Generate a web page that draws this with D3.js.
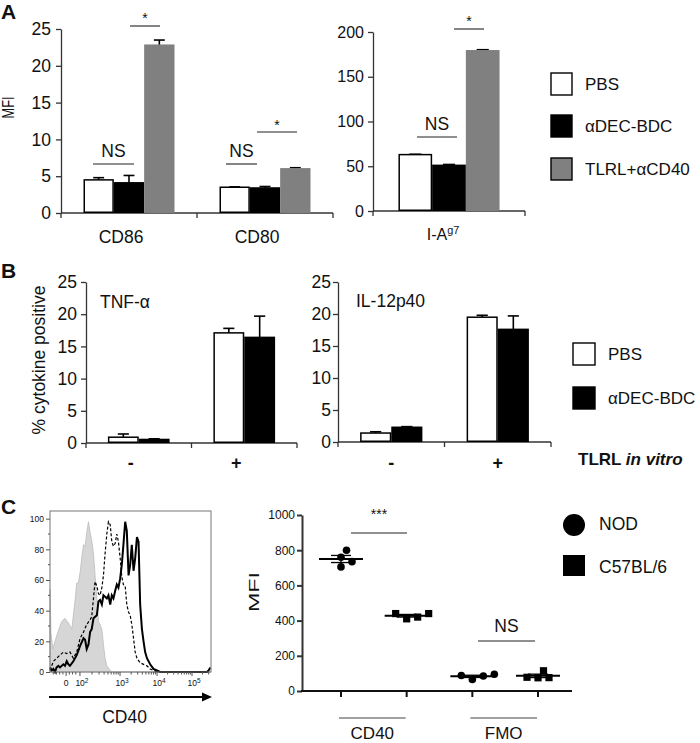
<!DOCTYPE html>
<html><head><meta charset="utf-8">
<script src="https://cdn.jsdelivr.net/npm/d3@7"></script>
<style>body{margin:0;background:#fff}svg{display:block}text{font-family:"Liberation Sans",Arial,sans-serif;fill:#111}</style>
</head><body><svg id="c" width="700" height="743"></svg>
<script>
// ================= DATA =================
// Panel A
const groupsA = ["PBS", "αDEC-BDC", "TLRL+αCD40"];
const catsA1 = ["CD86", "CD80"];
const valsCD86 = [4.5, 4.1, 22.8];
const errCD86 = [0.3, 1.0, 0.7];
const valsCD80 = [3.5, 3.4, 6.0];
const errCD80 = [0.05, 0.2, 0.15];
const catsA2 = ["I-Ag7"];
const valsIA = [63, 51, 179];
const errIA = [0.4, 1.0, 1.2];
const ticksA1 = [0, 5, 10, 15, 20, 25];
const ticksA2 = [0, 50, 100, 150, 200];
// Panel B
const groupsB = ["PBS", "αDEC-BDC"];
const catsB = ["-", "+"];
const tnfMinus = [0.9, 0.55], tnfPlus = [17.1, 16.4];
const tnfErrMinus = [0.5, 0.1], tnfErrPlus = [0.7, 3.3];
const ilMinus = [1.4, 2.3], ilPlus = [19.5, 17.6];
const ilErrMinus = [0.2, 0.1], ilErrPlus = [0.3, 2.1];
const ticksB = [0, 5, 10, 15, 20, 25];
// Panel C histogram (x: display channel 0-1000, y: % of max)
const histTickLabels = ["0", "10|2", "10|3", "10|4", "10|5"];
const histTickChannels = [100, 186, 435, 665, 882];
const histYTicks = [0, 20, 40, 60, 80, 100];
const histFMO = [[0,54],[6,26],[17,15],[31,20],[52,27],[73,33],[93,35],[114,32],[135,28],[145,37],[156,47],[166,58],[176,58],[187,65],[197,74],[208,83],[218,82],[228,91],[239,98],[249,91],[259,86],[270,77],[280,63],[291,48],[301,33],[311,31],[322,28],[332,18],[342,9],[353,4],[374,1],[384,0],[1000,0]];
const histDashed = [[0,1],[21,7],[41,9],[62,11],[83,13],[104,12],[124,13],[145,9],[166,13],[187,22],[208,26],[228,31],[249,34],[259,36],[270,48],[280,59],[291,56],[301,51],[311,50],[322,55],[332,63],[342,77],[353,90],[363,98],[374,96],[384,85],[394,82],[405,84],[415,90],[425,85],[436,74],[446,62],[456,57],[467,56],[477,44],[488,39],[498,37],[508,31],[519,22],[529,13],[540,9],[560,6],[581,5],[602,4],[622,2],[643,1],[664,0]];
const histSolid = [[0,3],[10,1],[21,2],[31,0],[41,3],[52,4],[62,3],[83,5],[93,4],[104,7],[114,5],[124,4],[145,7],[166,11],[187,17],[208,22],[218,21],[228,15],[239,18],[249,26],[259,28],[270,35],[291,37],[301,46],[311,47],[322,44],[332,50],[353,48],[363,50],[374,44],[384,50],[394,48],[405,53],[415,57],[425,55],[436,61],[446,70],[456,83],[467,98],[477,92],[488,63],[498,70],[508,83],[519,66],[529,74],[540,88],[550,85],[560,44],[571,28],[581,20],[591,13],[602,9],[622,5],[643,2],[664,1],[684,0],[975,0],[985,1],[996,3]];
// Panel C scatter
const catsC = ["CD40", "FMO"];
const strainsC = ["NOD", "C57BL/6"];
const nodCD40 = [760, 800, 735, 705];
const b6CD40 = [440, 410, 440, 420];
const nodFMO = [85, 65, 95, 88];
const b6FMO = [75, 76, 115, 78];
const ticksC = [0, 200, 400, 600, 800, 1000];

// ================= DRAW =================
const svg = d3.select("#c");
const AX = "#333";

function panelLabel(t, x, y) {
  svg.append("text").attr("x", x).attr("y", y).attr("font-size", 21).attr("font-weight", "bold").text(t);
}
function rotLabel(t, x, y, fs, len) {
  const el = svg.append("text").attr("transform", `translate(${x},${y}) rotate(-90)`).attr("text-anchor", "middle").attr("font-size", fs).text(t);
  if (len) el.attr("textLength", len).attr("lengthAdjust", "spacingAndGlyphs");
}
function yAxis(y, ticks, x, pad, fs, sw) {
  const g = svg.append("g").attr("transform", `translate(${x},0)`)
    .call(d3.axisLeft(y).tickValues(ticks).tickSize(5).tickSizeOuter(0).tickPadding(pad).tickFormat(d3.format("d")));
  g.selectAll("path,line").attr("stroke", AX).attr("stroke-width", sw || 1.3);
  g.selectAll("text").attr("font-size", fs).attr("font-family", "Liberation Sans, Arial, sans-serif").attr("fill", "#111");
  return g;
}
function sig(x1, x2, yl, label, ty, fs) {
  svg.append("line").attr("x1", x1).attr("x2", x2).attr("y1", yl).attr("y2", yl).attr("stroke", "#222").attr("stroke-width", 1.1);
  svg.append("text").attr("x", (x1 + x2) / 2).attr("y", ty).attr("text-anchor", "middle").attr("font-size", fs).text(label);
}

const fillsA = ["#fff", "#000", "#808080"];
const strokesA = ["#000", "#000", "#808080"];

function barPanel(o) {
  const y = d3.scaleLinear().domain(o.yDom).range([o.yBase, o.yTop]);
  const xb = d3.scaleBand().domain(o.cats).range([o.x0, o.x1]).padding(0);
  const xg = d3.scaleBand().domain(o.groups).range([0, xb.bandwidth()]).paddingInner(0).paddingOuter(o.padOuter);
  yAxis(y, o.ticks, o.x0, o.tickPad, o.tickFs);
  svg.append("line").attr("x1", o.x0).attr("x2", o.x1).attr("y1", o.yBase).attr("y2", o.yBase).attr("stroke", AX).attr("stroke-width", 1.3);
  const bounds = o.cats.map(c => xb(c)).concat([o.x1]);
  svg.selectAll(null).data(bounds).enter().append("line")
    .attr("x1", d => d).attr("x2", d => d).attr("y1", o.yBase).attr("y2", o.yBase + 5).attr("stroke", AX).attr("stroke-width", 1.3);
  o.cats.forEach((c, ci) => {
    const vals = o.vals[ci], errs = o.errs[ci];
    o.groups.forEach((g, gi) => {
      const bx = xb(c) + xg(g), bw = xg.bandwidth();
      const v = vals[gi], e = errs[gi];
      const cx = bx + bw / 2, cw = bw * 0.36;
      svg.append("line").attr("x1", cx).attr("x2", cx).attr("y1", y(v)).attr("y2", y(v + e)).attr("stroke", "#000").attr("stroke-width", 1.6);
      svg.append("line").attr("x1", cx - cw / 2).attr("x2", cx + cw / 2).attr("y1", y(v + e)).attr("y2", y(v + e)).attr("stroke", "#000").attr("stroke-width", 1.6);
      svg.append("rect").attr("x", bx + 0.75).attr("y", y(v)).attr("width", bw - 1.5).attr("height", o.yBase - y(v) - 0.75)
        .attr("fill", o.fills[gi]).attr("stroke", o.strokes[gi]).attr("stroke-width", 1.5);
    });
    if (o.catLabels) {
      const t = svg.append("text").attr("x", xb(c) + xb.bandwidth() / 2 + (o.labelDx || 0)).attr("y", o.labelY)
        .attr("text-anchor", "middle").attr("font-size", o.labelFs).attr("font-weight", o.labelBold ? "bold" : null);
      if (c === "I-Ag7") {
        t.append("tspan").text("I-A");
        t.append("tspan").attr("font-size", o.labelFs * 0.68).attr("dy", -6).text("g7");
      } else t.text(c);
    }
  });
  return {y, xb, xg};
}
function legendBoxes(labels, fills, x, ys, textX, fs, boxW, boxH) {
  labels.forEach((l, i) => {
    svg.append("rect").attr("x", x).attr("y", ys[i]).attr("width", boxW).attr("height", boxH)
      .attr("fill", fills[i]).attr("stroke", "#000").attr("stroke-width", 1.4);
    svg.append("text").attr("x", textX).attr("y", ys[i] + boxH / 2 + fs * 0.36).attr("font-size", fs).text(l);
  });
}

// ---------- Panel A ----------
panelLabel("A", 1, 19);
rotLabel("MFI", 14, 107.5, 16, 22);
barPanel({cats: catsA1, groups: groupsA, vals: [valsCD86, valsCD80], errs: [errCD86, errCD80],
  yDom: [0, 25], ticks: ticksA1, x0: 61, x1: 333, yBase: 213, yTop: 29, padOuter: 0.742,
  fills: fillsA, strokes: strokesA, tickPad: 5, tickFs: 17.5, catLabels: true, labelY: 243, labelFs: 17.5, labelDx: -8});
sig(93, 134, 164, "NS", 157, 17.5);
sig(130, 160, 26, "*", 23, 14);
sig(226, 257, 164, "NS", 157, 17.5);
sig(257, 297, 132, "*", 130, 14);

barPanel({cats: catsA2, groups: groupsA, vals: [valsIA], errs: [errIA],
  yDom: [0, 200], ticks: ticksA2, x0: 373, x1: 525, yBase: 211, yTop: 32, padOuter: 0.755,
  fills: fillsA, strokes: strokesA, tickPad: 4, tickFs: 16, catLabels: true, labelY: 240, labelFs: 16, labelDx: -6});
sig(417, 457, 137, "NS", 130, 17.5);
sig(454, 484, 29, "*", 26, 14);
legendBoxes(groupsA, fillsA, 551, [73, 115, 158], 585, 17, 21, 22);

// ---------- Panel B ----------
panelLabel("B", 1, 278);
rotLabel("% cytokine positive", 45, 360, 17.5);
barPanel({cats: catsB, groups: groupsB, vals: [tnfMinus, tnfPlus], errs: [tnfErrMinus, tnfErrPlus],
  yDom: [0, 25], ticks: ticksB, x0: 86, x1: 297, yBase: 443, yTop: 282, padOuter: 0.71,
  fills: ["#fff", "#000"], strokes: ["#000", "#000"], tickPad: 4, tickFs: 17.5, catLabels: true, labelY: 469, labelFs: 18, labelBold: true, labelDx: -8});
svg.append("text").attr("x", 100).attr("y", 308).attr("font-size", 17.5).text("TNF-α");
barPanel({cats: catsB, groups: groupsB, vals: [ilMinus, ilPlus], errs: [ilErrMinus, ilErrPlus],
  yDom: [0, 25], ticks: ticksB, x0: 338, x1: 551, yBase: 442, yTop: 282, padOuter: 0.71,
  fills: ["#fff", "#000"], strokes: ["#000", "#000"], tickPad: 2, tickFs: 17.5, catLabels: true, labelY: 469, labelFs: 18, labelBold: true, labelDx: 0});
svg.append("text").attr("x", 356).attr("y", 307).attr("font-size", 17.5).text("IL-12p40");
legendBoxes(groupsB, ["#fff", "#000"], 573, [343, 387], 608, 17, 22, 22);
{
  const t = svg.append("text").attr("x", 578).attr("y", 465).attr("font-size", 17).attr("font-weight", "bold");
  t.append("tspan").text("TLRL ");
  t.append("tspan").attr("font-style", "italic").text("in vitro");
}

// ---------- Panel C: histogram ----------
panelLabel("C", 1, 514);
{
  const hx = d3.scaleLinear().domain([0, 1000]).range([50, 211]);
  const hy = d3.scaleLinear().domain([0, 105]).range([672, 511]);
  const area = d3.area().x(d => hx(d[0])).y0(hy(0)).y1(d => hy(d[1]));
  const line = d3.line().x(d => hx(d[0])).y(d => hy(d[1]));
  svg.append("path").datum(histFMO).attr("d", area).attr("fill", "#d6d6d6").attr("stroke", "#bdbdbd").attr("stroke-width", 0.8);
  svg.append("path").datum(histDashed).attr("d", line).attr("fill", "none").attr("stroke", "#000").attr("stroke-width", 1.2).attr("stroke-dasharray", "3,2");
  svg.append("path").datum(histSolid).attr("d", line).attr("fill", "none").attr("stroke", "#000").attr("stroke-width", 2);
  svg.append("rect").attr("x", 50).attr("y", 511).attr("width", 161).attr("height", 161).attr("fill", "none").attr("stroke", "#777").attr("stroke-width", 1);
  const gy = svg.append("g").attr("transform", "translate(50,0)")
    .call(d3.axisLeft(hy).tickValues(histYTicks).tickSize(4).tickSizeOuter(0).tickPadding(2).tickFormat(d3.format("d")));
  gy.select(".domain").remove();
  gy.selectAll("line").attr("stroke", "#555");
  gy.selectAll("text").attr("font-size", 8.5).attr("fill", "#222");
  svg.selectAll(null).data(d3.range(10, 101, 20)).enter().append("line")
    .attr("x1", 48).attr("x2", 50).attr("y1", d => hy(d)).attr("y2", d => hy(d)).attr("stroke", "#555");
  svg.selectAll(null).data(histTickChannels).enter().append("line")
    .attr("x1", d => hx(d)).attr("x2", d => hx(d)).attr("y1", 672).attr("y2", 676).attr("stroke", "#555");
  const decs = [[186, 435], [435, 665], [665, 882], [882, 1099]];
  const minor = [];
  decs.forEach(([a, b]) => { for (let k = 2; k <= 9; k++) { const c = a + (b - a) * Math.log10(k); if (c <= 1000) minor.push(c); } });
  [20, 40, 60, 80, 120, 140, 160].forEach(c => minor.push(c));
  svg.selectAll(null).data(minor).enter().append("line")
    .attr("x1", d => hx(d)).attr("x2", d => hx(d)).attr("y1", 672).attr("y2", 674.5).attr("stroke", "#555");
  histTickLabels.forEach((l, i) => {
    const parts = l.split("|");
    const t = svg.append("text").attr("x", hx(histTickChannels[i]) + (parts.length > 1 ? 2 : 0)).attr("y", 686)
      .attr("text-anchor", "middle").attr("font-size", 8.5).attr("fill", "#222");
    t.append("tspan").text(parts[0]);
    if (parts[1]) t.append("tspan").attr("dy", -3.5).attr("font-size", 6.5).text(parts[1]);
  });
  svg.append("line").attr("x1", 49).attr("x2", 203).attr("y1", 697).attr("y2", 697).attr("stroke", "#000").attr("stroke-width", 2);
  svg.append("path").attr("d", "M202,692.5 L212,697 L202,701.5 Z").attr("fill", "#000");
  svg.append("text").attr("x", 124.5).attr("y", 723).attr("text-anchor", "middle").attr("font-size", 17.5).text("CD40");
}

// ---------- Panel C: scatter ----------
{
  const cols = [];
  catsC.forEach(c => strainsC.forEach(s => cols.push(c + "|" + s)));
  const colVals = [nodCD40, b6CD40, nodFMO, b6FMO];
  const xs = d3.scalePoint().domain(cols).range([341, 538]);
  const y = d3.scaleLinear().domain([0, 1000]).range([691, 515]);
  rotLabel("MFI", 259, 592, 14, 40);
  yAxis(y, ticksC, 302, 2, 12, 2);
  svg.append("line").attr("x1", 301).attr("x2", 572).attr("y1", 691).attr("y2", 691).attr("stroke", "#111").attr("stroke-width", 2.2);
  svg.selectAll(null).data(cols).enter().append("line")
    .attr("x1", d => xs(d)).attr("x2", d => xs(d)).attr("y1", 691).attr("y2", 697).attr("stroke", "#111").attr("stroke-width", 2);
  catsC.forEach((c, i) => {
    const a = xs(cols[i * 2]) - 2, b = xs(cols[i * 2 + 1]) - 1;
    svg.append("line").attr("x1", a).attr("x2", b).attr("y1", 718).attr("y2", 718).attr("stroke", "#444").attr("stroke-width", 1.1);
    svg.append("text").attr("x", (a + b) / 2).attr("y", 739).attr("text-anchor", "middle").attr("font-size", 17).text(c);
  });
  const r = 3.8;
  colVals.forEach((vals, ci) => {
    const cx = xs(cols[ci]);
    const placed = [];
    const order = vals.map((v, i) => i).sort((a, b) => vals[a] - vals[b]);
    order.forEach(i => {
      const py = y(vals[i]);
      let off = 0;
      for (let k = 0; k < 40; k++) {
        const cand = k === 0 ? 0 : (k % 2 ? 1 : -1) * Math.ceil(k / 2) * 5.5;
        if (placed.every(p => Math.hypot(p[0] - cand, p[1] - py) >= 2 * r + 0.5)) { off = cand; break; }
      }
      placed.push([off, py]);
    });
    const isNOD = ci % 2 === 0;
    placed.forEach(([off, py]) => {
      if (isNOD) svg.append("circle").attr("cx", cx + off).attr("cy", py).attr("r", r).attr("fill", "#000");
      else svg.append("rect").attr("x", cx + off - 3.6).attr("y", py - 3.6).attr("width", 7.2).attr("height", 7.2).attr("fill", "#000");
    });
    const m = d3.mean(vals), se = d3.deviation(vals) / Math.sqrt(vals.length);
    svg.append("line").attr("x1", cx - 22).attr("x2", cx + 22).attr("y1", y(m)).attr("y2", y(m)).attr("stroke", "#000").attr("stroke-width", 2);
    svg.append("line").attr("x1", cx).attr("x2", cx).attr("y1", y(m - se)).attr("y2", y(m + se)).attr("stroke", "#000").attr("stroke-width", 1.3);
    [m - se, m + se].forEach(v => svg.append("line").attr("x1", cx - 10).attr("x2", cx + 10).attr("y1", y(v)).attr("y2", y(v)).attr("stroke", "#000").attr("stroke-width", 1.3));
  });
  sig(351, 407, 533, "***", 519, 14);
  sig(478, 535, 641, "NS", 632, 17.5);
  svg.append("circle").attr("cx", 574).attr("cy", 525).attr("r", 11).attr("fill", "#000");
  svg.append("rect").attr("x", 563).attr("y", 555).attr("width", 22).attr("height", 21).attr("fill", "#000");
  svg.append("text").attr("x", 599).attr("y", 529.5).attr("font-size", 17.5).text(strainsC[0]);
  svg.append("text").attr("x", 599).attr("y", 573).attr("font-size", 17.5).text(strainsC[1]);
}
</script></body></html>
